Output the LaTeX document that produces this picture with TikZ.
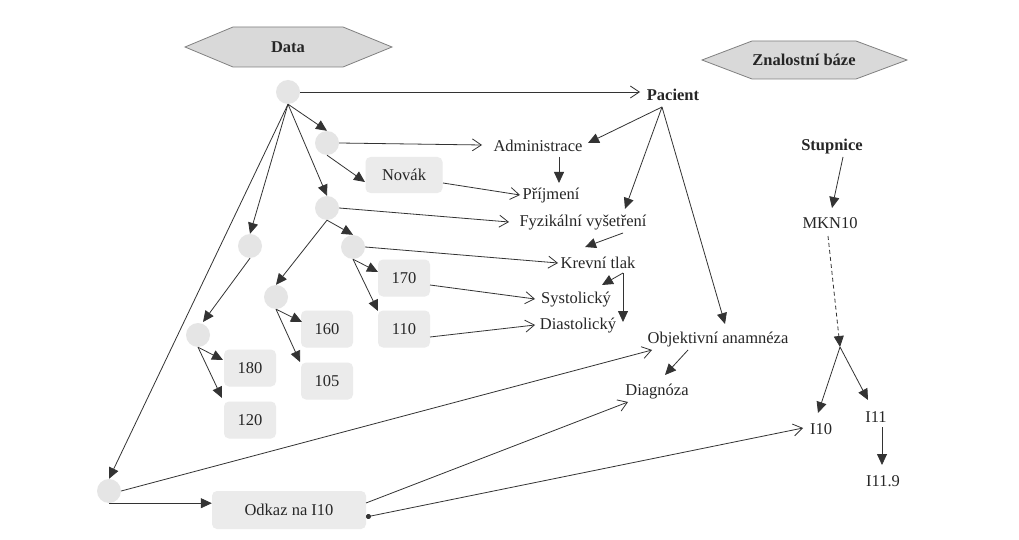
\documentclass[tikz,border=0pt]{standalone}
\usepackage{fontspec}
\setmainfont{Liberation Serif}
\usetikzlibrary{arrows.meta,calc}

\begin{document}
\begin{tikzpicture}[x=1pt,y=-1pt,
  every node/.style={font=\fontsize{16.5}{18}\selectfont, text=black!85},
  lbl/.style={inner sep=1pt},
  blbl/.style={inner sep=1pt, font=\fontsize{16.5}{18}\selectfont\bfseries},
  dot/.style={circle, fill=gray!20, minimum size=24pt, inner sep=0pt},
  val/.style={rounded corners=5pt, fill=gray!16, minimum height=37pt, minimum width=52pt, inner sep=0pt},
  ln/.style={draw=black!80, line width=0.8pt},
  fa/.style={ln, -{Triangle[length=11pt,width=10pt]}},
  oa/.style={ln, -{Straight Barb[length=9pt,width=12pt]}},
  hexa/.style={draw=gray, fill=gray!30, line width=0.8pt}
]
\fill[white] (0,0) rectangle (1019,540);
\useasboundingbox (0,0) rectangle (1019,540);

% headings
\draw[hexa] (185,47) -- (233,27) -- (343,27) -- (392,47) -- (343,67) -- (233,67) -- cycle;
\node[blbl] (data) at (288,47) {Data};
\draw[hexa] (702,60) -- (752,41) -- (856,41) -- (907,60) -- (856,79) -- (752,79) -- cycle;
\node[blbl] (zb) at (804,60) {Znalostní báze};

% data tree: instance points
\node[dot] (c0) at (288,92) {};
\node[dot] (c1) at (327,143) {};
\node[dot] (c2) at (327,208) {};
\node[dot] (c3) at (353,247) {};
\node[dot] (c4) at (250,246) {};
\node[dot] (c5) at (276,297) {};
\node[dot] (c6) at (198,335) {};
\node[dot] (c7) at (109,491) {};

% data values
\node[val, minimum width=77pt, minimum height=36pt] (nov) at (404,175) {Novák};
\node[val] (b170) at (404,278) {170};
\node[val] (b110) at (404,329) {110};
\node[val] (b160) at (327,329) {160};
\node[val] (b105) at (327,381) {105};
\node[val] (b180) at (250,368) {180};
\node[val] (b120) at (250,420) {120};
\node[val, minimum width=154pt, minimum height=38pt] (odk) at (289,510) {Odkaz na I10};

% schema terms
\node[blbl] (pac) at (673,95) {Pacient};
\node[lbl] (adm) at (538,146) {Administrace};
\node[lbl] (prij) at (551,196) {Příjmení};
\node[lbl] (fyz) at (583,223) {Fyzikální vyšetření};
\node[lbl] (krev) at (598,263) {Krevní tlak};
\node[lbl] (sys) at (576,300) {Systolický};
\node[lbl] (dia) at (578,326) {Diastolický};
\node[lbl] (obj) at (718,340) {Objektivní anamnéza};
\node[lbl] (diag) at (657,392) {Diagnóza};

% knowledge base
\node[blbl] (stup) at (832,147) {Stupnice};
\node[lbl] (mkn) at (830,223) {MKN10};
\node[lbl] (i10) at (821,429) {I10};
\node[lbl] (i11) at (876,417) {I11};
\node[lbl] (i119) at (883,481) {I11.9};
\coordinate (br) at (840,347);

% tree edges
\draw[fa] (c0.south) -- (c1.north);
\draw[fa] (c0.south) -- (c2.north);
\draw[fa] (c0.south) -- (c4.north);
\draw[fa] (c0.south) -- (c7.north);
\draw[fa] (c1.south) -- ($(nov)+(-39,7)$);
\draw[fa] (c2.south) -- (c3.north);
\draw[fa] (c2.south) -- (c5.north);
\draw[fa] (c3.south) -- ($(b170)+(-26,-6)$);
\draw[fa] (c3.south) -- ($(b110)+(-26,-18)$);
\draw[fa] (c4.south) -- ($(c6)+(5,-13)$);
\draw[fa] (c6.south) -- ($(b180)+(-27,-8)$);
\draw[fa] (c6.south) -- ($(b120)+(-28,-22)$);
\draw[fa] (c5.south) -- ($(b160)+(-25,-7)$);
\draw[fa] (c5.south) -- ($(b105)+(-27,-19)$);
\draw[fa] (c7.south) -- (c7.south -| odk.west);

% instance-of links
\draw[oa] (c0.east) -- ($(pac)+(-33,-3)$);
\draw[oa] (c1.east) -- ($(adm)+(-56,-1)$);
\draw[oa] ($(nov)+(39,8)$) -- ($(prij)+(-31,-1)$);
\draw[oa] (c2.east) -- ($(fyz)+(-74,-1)$);
\draw[oa] (c3.east) -- ($(krev)+(-40,0)$);
\draw[oa] ($(b170)+(26,7)$) -- ($(sys)+(-41,-1)$);
\draw[oa] ($(b110)+(26,8)$) -- ($(dia)+(-43,-1)$);
\draw[oa] (c7.east) -- ($(obj)+(-66,10)$);
\draw[oa] ($(odk)+(77,-7)$) -- ($(diag)+(-29,10)$);
\draw[ln, {Circle[length=5pt]}-{Straight Barb[length=9pt,width=12pt]}] ($(odk)+(77,7)$) -- ($(i10)+(-18,-1)$);

% schema edges
\draw[fa] ($(pac)+(-11,12)$) -- ($(adm)+(50,-3)$);
\draw[fa] ($(pac)+(-11,12)$) -- ($(fyz)+(42,-14)$);
\draw[fa] ($(pac)+(-11,12)$) -- ($(obj)+(7,-16)$);
\draw[fa] ($(adm)+(21,11)$) -- ($(prij)+(8,-13)$);
\draw[fa] ($(fyz)+(40,10)$) -- ($(krev)+(-13,-16)$);
\draw[fa] ($(krev)+(25,10)$) -- ($(sys)+(26,-15)$);
\draw[fa] ($(krev)+(25,10)$) -- ($(dia)+(45,-4)$);
\draw[fa] ($(obj)+(-30,10)$) -- ($(diag)+(8,-17)$);

% classification edges
\draw[fa] ($(stup)+(11,10)$) -- ($(mkn)+(2,-15)$);
\draw[fa, dash pattern=on 4pt off 3pt] ($(mkn)+(-2,13)$) -- (br);
\draw[fa] (br) -- ($(i10)+(-3,-16)$);
\draw[fa] (br) -- ($(i11)+(-8,-17)$);
\draw[fa] ($(i11)+(6,10)$) -- ($(i119)+(-1,-16)$);
\end{tikzpicture}
\end{document}
